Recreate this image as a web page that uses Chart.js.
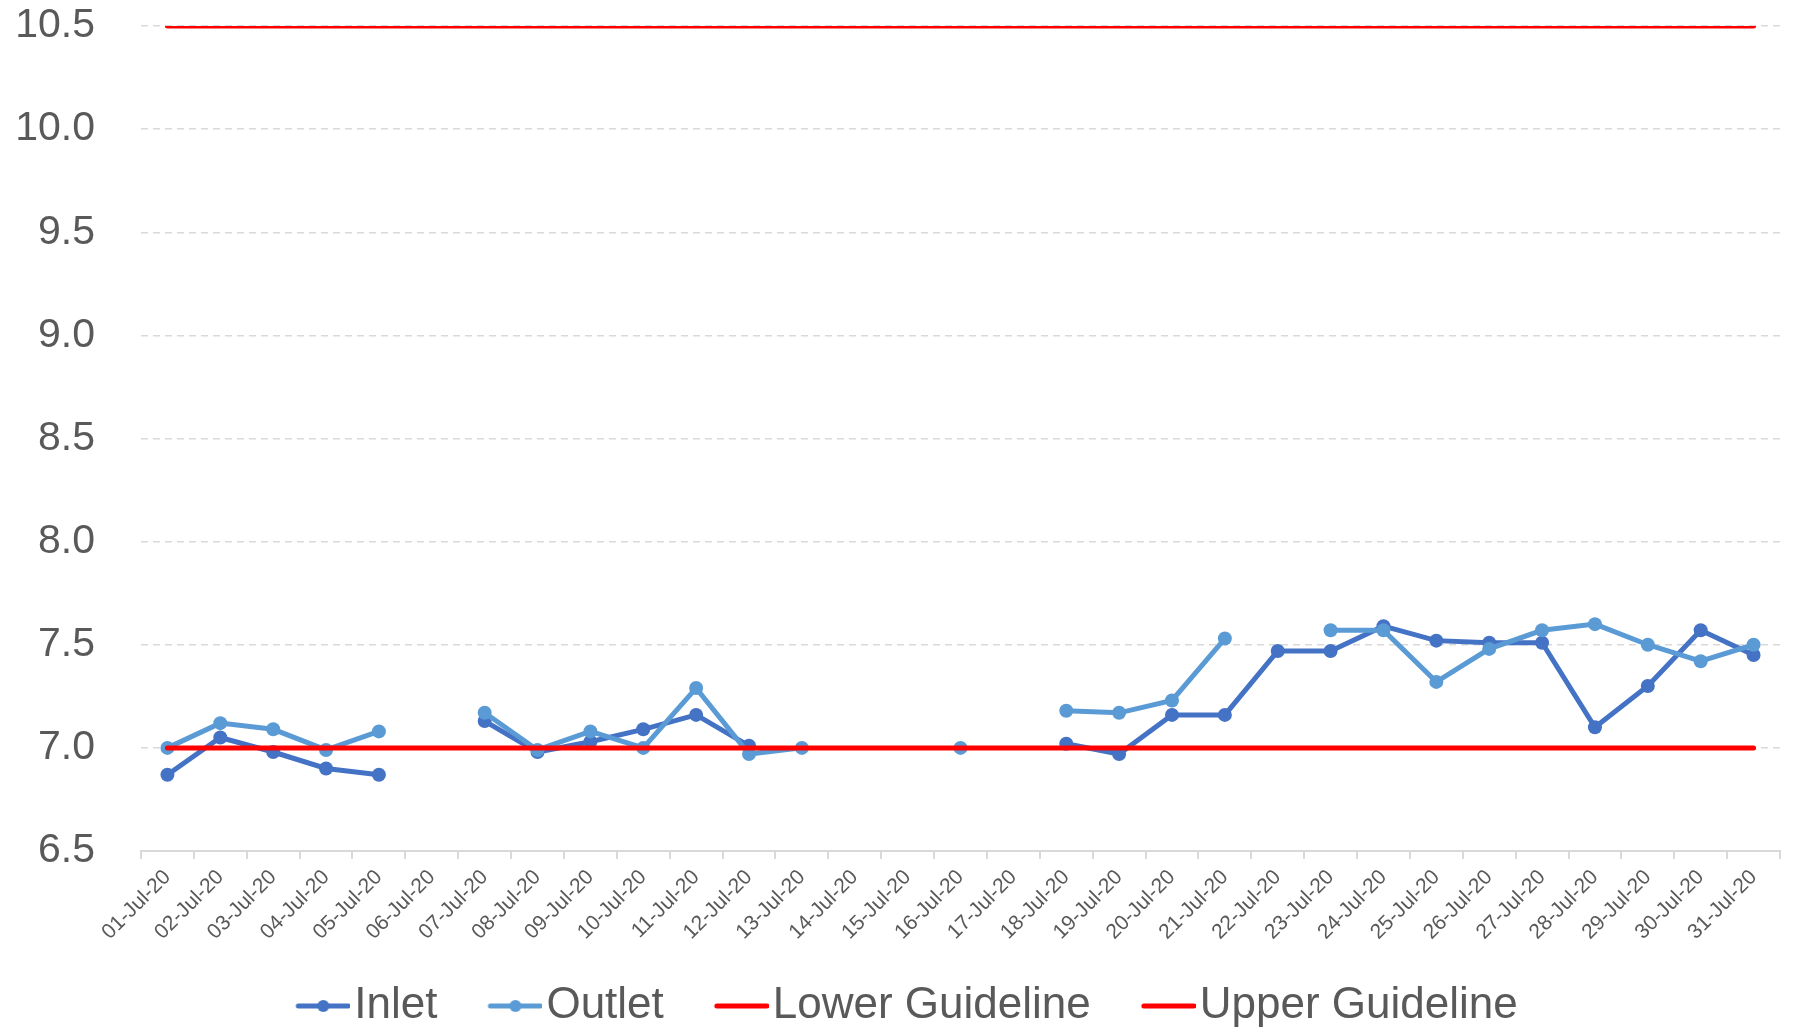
<!DOCTYPE html>
<html><head><meta charset="utf-8">
<script src="https://cdn.jsdelivr.net/npm/chart.js@4.4.1/dist/chart.umd.min.js"></script>
<style>html,body{margin:0;padding:0;background:#fff;}canvas{display:block;}</style>
</head><body>
<canvas id="c" width="1793" height="1028"></canvas>
<script>
const categories = ["01-Jul-20","02-Jul-20","03-Jul-20","04-Jul-20","05-Jul-20","06-Jul-20","07-Jul-20","08-Jul-20","09-Jul-20","10-Jul-20","11-Jul-20","12-Jul-20","13-Jul-20","14-Jul-20","15-Jul-20","16-Jul-20","17-Jul-20","18-Jul-20","19-Jul-20","20-Jul-20","21-Jul-20","22-Jul-20","23-Jul-20","24-Jul-20","25-Jul-20","26-Jul-20","27-Jul-20","28-Jul-20","29-Jul-20","30-Jul-20","31-Jul-20"];
const inlet = [6.87,7.05,6.98,6.90,6.87,null,7.13,6.98,7.03,7.09,7.16,7.01,null,null,null,null,null,7.02,6.97,7.16,7.16,7.47,7.47,7.59,7.52,7.51,7.51,7.10,7.30,7.57,7.45];
const outlet = [7.00,7.12,7.09,6.99,7.08,null,7.17,6.99,7.08,7.00,7.29,6.97,7.00,null,null,7.00,null,7.18,7.17,7.23,7.53,null,7.57,7.57,7.32,7.48,7.57,7.60,7.50,7.42,7.50];
const lowerGuideline = categories.map(() => 7.0);
const upperGuideline = categories.map(() => 10.5);
const yTickValues = [6.5,7.0,7.5,8.0,8.5,9.0,9.5,10.0,10.5];
const seriesNames = ["Inlet","Outlet","Lower Guideline","Upper Guideline"];

const INLET = '#4472C4', OUTLET = '#5B9BD5', RED = '#FF0000', TXT = '#595959', GRID = '#D9D9D9';

function makeMarker(color, dot) {
  const c = document.createElement('canvas');
  c.width = 92; c.height = 16;
  const g = c.getContext('2d');
  g.strokeStyle = color; g.lineWidth = 5; g.lineCap = 'round';
  g.beginPath(); g.moveTo(40, 8); g.lineTo(90, 8); g.stroke();
  if (dot) { g.fillStyle = color; g.beginPath(); g.arc(65, 8, 6, 0, Math.PI*2); g.fill(); }
  return c;
}
const markers = [makeMarker(INLET, true), makeMarker(OUTLET, true), makeMarker(RED, false), makeMarker(RED, false)];

new Chart(document.getElementById('c'), {
  type: 'line',
  data: {
    labels: categories,
    datasets: [
      {label: seriesNames[0], data: inlet, borderColor: INLET, backgroundColor: INLET, borderWidth: 5, pointRadius: 7, pointBorderWidth: 0, pointBackgroundColor: INLET, order: 3},
      {label: seriesNames[1], data: outlet, borderColor: OUTLET, backgroundColor: OUTLET, borderWidth: 5, pointRadius: 7, pointBorderWidth: 0, pointBackgroundColor: OUTLET, order: 2},
      {label: seriesNames[2], data: lowerGuideline, borderColor: RED, backgroundColor: RED, borderWidth: 5, pointRadius: 0, borderCapStyle: 'round', order: 1},
      {label: seriesNames[3], data: upperGuideline, borderColor: RED, backgroundColor: RED, borderWidth: 5, pointRadius: 0, borderCapStyle: 'round', clip: 0, order: 0}
    ]
  },
  options: {
    responsive: false,
    animation: false,
    devicePixelRatio: 1,
    layout: {padding: {left: 14, right: 13, top: 0, bottom: -10}},
    plugins: {
      tooltip: {enabled: false},
      legend: {
        position: 'bottom',
        labels: {
          usePointStyle: true,
          pointStyleWidth: 56,
          padding: 31,
          color: TXT,
          font: {family: 'Liberation Sans', size: 44},
          generateLabels: (chart) => {
            const items = Chart.defaults.plugins.legend.labels.generateLabels(chart);
            items.sort((a, b) => a.datasetIndex - b.datasetIndex);
            items.forEach(it => { it.pointStyle = markers[it.datasetIndex]; });
            return items;
          }
        }
      }
    },
    scales: {
      x: {
        offset: true,
        afterFit: (scale) => { scale.height = 102; },
        grid: {offset: true, drawOnChartArea: false, drawTicks: true, tickLength: 8, color: GRID, lineWidth: 2},
        border: {color: GRID, width: 2},
        ticks: {autoSkip: false, minRotation: 45, maxRotation: 45, color: TXT, padding: 6, font: {family: 'Liberation Sans', size: 21}}
      },
      y: {
        min: 6.5, max: 10.5,
        afterBuildTicks: (scale) => { scale.ticks = yTickValues.map(v => ({value: v})); },
        afterFit: (scale) => { scale.width = 127; scale.paddingTop = 26; scale.paddingBottom = 0; },
        grid: {color: GRID, lineWidth: 1.5, drawTicks: false},
        border: {display: false, dash: [7, 5]},
        ticks: {color: TXT, padding: 46, font: {family: 'Liberation Sans', size: 41}, callback: (v) => Number(v).toFixed(1)}
      }
    }
  }
});
</script>
</body></html>
